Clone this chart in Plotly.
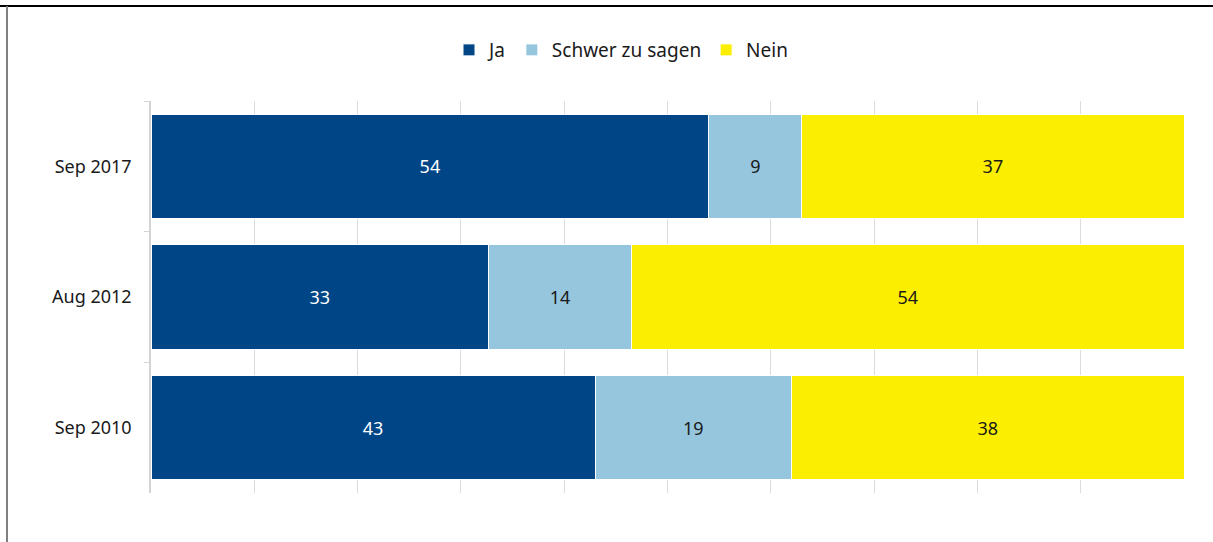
import plotly.graph_objects as go

categories = ["Sep 2017", "Aug 2012", "Sep 2010"]
ja = [54, 33, 43]
schwer = [9, 14, 19]
nein = [37, 54, 38]

series = [
    ("Ja", ja, "#004687", "white"),
    ("Schwer zu sagen", schwer, "#96C6DE", "#1a1a1a"),
    ("Nein", nein, "#FCEE00", "#1a1a1a"),
]

fig = go.Figure()
for name, vals, color, tcolor in series:
    fig.add_trace(go.Bar(
        y=categories, x=vals, name=name, orientation="h",
        marker=dict(color=color, line=dict(color="white", width=1)),
        text=vals, texttemplate="%{text}", textposition="inside",
        insidetextanchor="middle", textangle=0,
        textfont=dict(color=tcolor, size=18, family="Noto Sans"),
    ))

fig.update_layout(
    barmode="stack", barnorm="percent", bargap=0.2,
    width=1213, height=542,
    margin=dict(l=151, r=29, t=101, b=49),
    paper_bgcolor="white", plot_bgcolor="white",
    font=dict(family="Noto Sans", size=18, color="#1a1a1a"),
    legend=dict(orientation="h", x=0.455, xanchor="center", y=1.13, yanchor="middle",
                font=dict(size=19), traceorder="normal", itemwidth=30),
    xaxis=dict(range=[0, 100], dtick=10, showgrid=True, gridcolor="#dcdcdc", gridwidth=1,
               showticklabels=False, zeroline=False, showline=False, fixedrange=True),
    yaxis=dict(categoryorder="array", categoryarray=categories, autorange="reversed",
               showline=True, linecolor="#d4d4d4", linewidth=1.5,
               ticks="outside", tickson="boundaries", ticklen=5, tickcolor="#d4d4d4",
               ticklabelstandoff=14, showgrid=False, tickfont=dict(size=18)),
    shapes=[
        dict(type="line", xref="paper", yref="paper", x0=-151/1033, x1=1.1, y0=1 + 95/392, y1=1 + 95/392,
             line=dict(color="black", width=2)),
        dict(type="line", xref="paper", yref="paper", x0=-144/1033, x1=-144/1033, y0=1 + 95/392, y1=-0.2,
             line=dict(color="#808080", width=2)),
    ],
)

fig.write_html("out.html", config={"displayModeBar": False},
               post_script="document.body.style.margin='0';document.body.style.padding='0';")
